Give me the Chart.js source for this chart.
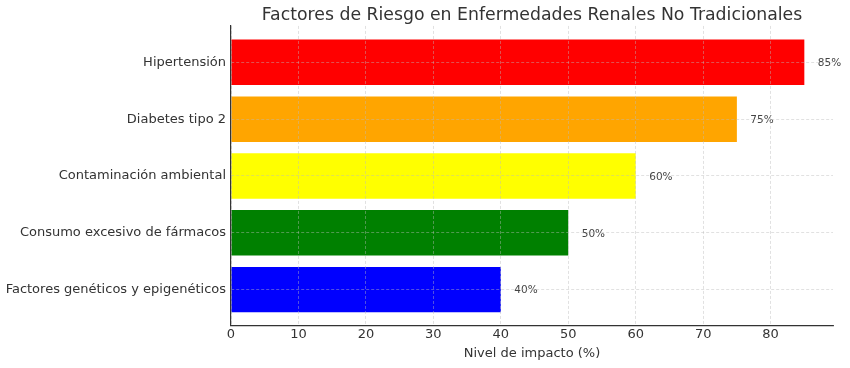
<!DOCTYPE html>
<html>
<head>
<meta charset="utf-8">
<script src="https://cdn.jsdelivr.net/npm/chart.js@4/dist/chart.umd.min.js"></script>
<style>
  html, body { margin: 0; padding: 0; background: #fff; }
  #wrap { width: 850px; height: 368px; }
</style>
</head>
<body>
<div id="wrap"><canvas id="c" width="850" height="368"></canvas></div>
<script>
const title = "Factores de Riesgo en Enfermedades Renales No Tradicionales";
const categories = ["Hipertensión", "Diabetes tipo 2", "Contaminación ambiental", "Consumo excesivo de fármacos", "Factores genéticos y epigenéticos"];
const values = [85, 75, 60, 50, 40];
const colors = ["#ff0000", "#ffa500", "#ffff00", "#008000", "#0000ff"];
const xTicks = [0, 10, 20, 30, 40, 50, 60, 70, 80];
const xLabel = "Nivel de impacto (%)";

const FONT = "'DejaVu Sans', sans-serif";
Chart.defaults.font.family = FONT;

const points = values.map((v, i) => ({ x: v, y: i }));

const valueLabels = {
  id: 'valueLabels',
  afterDatasetsDraw(chart) {
    const ctx = chart.ctx;
    const meta = chart.getDatasetMeta(0);
    const xs = chart.scales.x;
    ctx.save();
    ctx.font = "10.5px " + FONT;
    ctx.fillStyle = "#444";
    ctx.textAlign = "left";
    ctx.textBaseline = "middle";
    meta.data.forEach((bar, i) => {
      ctx.fillText(values[i] + "%", xs.getPixelForValue(values[i] + 2), bar.y + 1);
    });
    ctx.restore();
  }
};

new Chart(document.getElementById('c'), {
  type: 'bar',
  data: {
    datasets: [{
      data: points,
      backgroundColor: colors,
      borderWidth: 0,
      barPercentage: 1,
      categoryPercentage: 0.8
    }]
  },
  options: {
    indexAxis: 'y',
    responsive: false,
    animation: false,
    layout: { padding: { left: 0, right: 17, top: 0, bottom: 0 } },
    plugins: {
      legend: { display: false },
      tooltip: { enabled: false },
      title: {
        display: true,
        text: title,
        fullSize: false,
        color: "#333",
        font: { size: 17.3, weight: 'normal', family: FONT },
        padding: { top: 5.2, bottom: 0 }
      }
    },
    scales: {
      x: {
        type: 'linear',
        position: 'bottom',
        min: 0,
        max: 89.25,
        offset: false,
        afterBuildTicks(s) { s.ticks = xTicks.map(v => ({ value: v })); },
        afterFit(s) { s.height = 42; },
        ticks: { color: "#333", font: { size: 13 }, padding: 1 },
        grid: { color: "rgba(185,185,185,0.55)", lineWidth: 0.8, drawTicks: false, offset: false, z: 1 },
        border: { display: true, color: "#333", width: 1.2, dash: [3, 2], z: 2 },
        title: { display: true, text: xLabel, color: "#333", font: { size: 13 }, padding: { top: 0, bottom: 7 } }
      },
      y: {
        type: 'linear',
        position: 'left',
        reverse: true,
        min: -0.64,
        max: 4.64,
        offset: false,
        afterBuildTicks(s) { s.ticks = categories.map((c, i) => ({ value: i })); },
        afterFit(s) { s.width = 231; },
        ticks: { color: "#333", font: { size: 13 }, padding: 5, callback: (v) => categories[v] },
        grid: { color: "rgba(185,185,185,0.55)", lineWidth: 0.8, drawTicks: false, offset: false, z: 1 },
        border: { display: true, color: "#333", width: 1.2, dash: [3, 2], z: 2 }
      }
    }
  },
  plugins: [valueLabels]
});
</script>
</body>
</html>
